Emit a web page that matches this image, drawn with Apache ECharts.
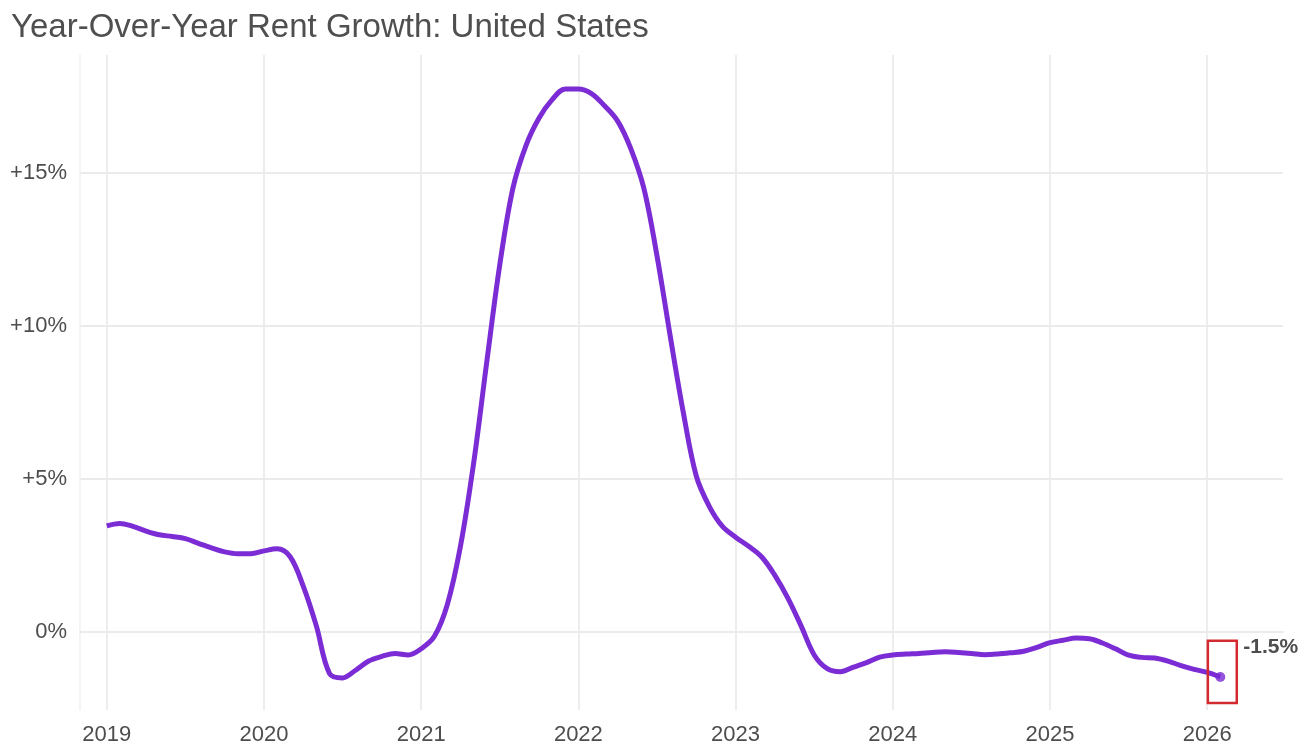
<!DOCTYPE html>
<html>
<head>
<meta charset="utf-8">
<script src="https://cdn.jsdelivr.net/npm/echarts@6/dist/echarts.min.js"></script>
<style>html,body{margin:0;padding:0;background:#fff;}#chart{width:1306px;height:750px;}</style>
</head>
<body>
<div id="chart"></div>
<script>
const chartTitle = 'Year-Over-Year Rent Growth: United States';
const startYear = 2019;
// monthly YoY rent growth (%), Jan 2019 .. Feb 2026
const rentGrowth = [
  3.47, 3.55, 3.45, 3.30, 3.18, 3.12, 3.05, 2.90, 2.75, 2.62, 2.56, 2.56,
  2.65, 2.72, 2.46, 1.50, 0.20, -1.35, -1.50, -1.25, -0.95, -0.80, -0.70, -0.75,
  -0.55, -0.15, 0.90, 2.80, 5.50, 8.80, 12.00, 14.50, 15.90, 16.80, 17.40, 17.75,
  17.75, 17.60, 17.20, 16.70, 15.80, 14.50, 12.30, 9.70, 7.20, 5.10, 4.10, 3.45,
  3.10, 2.80, 2.45, 1.85, 1.10, 0.20, -0.75, -1.20, -1.30, -1.15, -1.00, -0.82,
  -0.75, -0.72, -0.70, -0.67, -0.65, -0.67, -0.70, -0.74, -0.72, -0.68, -0.63, -0.50,
  -0.35, -0.27, -0.20, -0.22, -0.36, -0.55, -0.76, -0.83, -0.85, -0.95, -1.10, -1.22,
  -1.32, -1.47
];
const yearTicks = [2019, 2020, 2021, 2022, 2023, 2024, 2025, 2026];
const pctTicks = [0, 5, 10, 15];
const lastLabel = '-1.5%';
const highlightBox = { x: [2026.004, 2026.188], y: [-2.32, -0.29] };

const points = rentGrowth.map((v, i) => [startYear + i / 12, v]);
const lastPoint = points[points.length - 1];

const gridColor = '#ebebeb';
const lineColor = '#7b2cd4';
const textColor = '#4d4d4d';

const chart = echarts.init(document.getElementById('chart'));
chart.setOption({
  backgroundColor: '#ffffff',
  animation: false,
  title: {
    text: chartTitle,
    left: 6,
    top: 6,
    textStyle: { fontFamily: 'Liberation Sans, Arial, sans-serif', fontSize: 33, fontWeight: 'normal', color: '#4f4f4f' }
  },
  grid: { left: 80, right: 23, top: 55, bottom: 40, containLabel: false },
  xAxis: {
    type: 'value',
    min: 2018.83,
    max: 2026.482,
    splitLine: { show: false },
    axisTick: { show: false },
    axisLine: { show: true, lineStyle: { color: '#ececec', width: 1.5 } },
    axisLabel: {
      customValues: yearTicks,
      formatter: v => String(Math.round(v)),
      margin: 14,
      fontFamily: 'Liberation Sans, Arial, sans-serif',
      fontSize: 22,
      color: textColor
    }
  },
  yAxis: {
    type: 'value',
    min: -2.55,
    max: 18.86,
    splitLine: { show: false },
    axisTick: { show: false },
    axisLine: { show: true, lineStyle: { color: '#f0f0f0', width: 1.5 } },
    axisLabel: {
      customValues: pctTicks,
      formatter: v => (v > 0 ? '+' : '') + v + '%',
      margin: 13,
      fontFamily: 'Liberation Sans, Arial, sans-serif',
      fontSize: 22,
      color: textColor
    }
  },
  series: [
    {
      type: 'line',
      name: 'grid',
      data: [],
      silent: true,
      z: 0,
      markLine: {
        silent: true,
        z: 0,
        symbol: 'none',
        label: { show: false },
        lineStyle: { color: gridColor, type: 'solid', width: 1.8 },
        data: yearTicks.map(y => ({ xAxis: y })).concat(pctTicks.map(p => ({ yAxis: p })))
      }
    },
    {
      type: 'line',
      name: 'Rent growth',
      data: points,
      smooth: 0.35,
      showSymbol: false,
      z: 3,
      lineStyle: { color: lineColor, width: 5 },
      itemStyle: { color: lineColor },
      endLabel: {
        show: true,
        formatter: () => lastLabel,
        distance: 5,
        offset: [18, -30],
        fontFamily: 'Liberation Sans, Arial, sans-serif',
        fontSize: 21,
        fontWeight: 'bold',
        color: '#4d4d4d'
      },
      markArea: {
        silent: true,
        z: 4,
        itemStyle: { color: 'rgba(0,0,0,0)', borderColor: '#d42a2f', borderWidth: 2.5 },
        data: [[{ coord: [highlightBox.x[0], highlightBox.y[1]] }, { coord: [highlightBox.x[1], highlightBox.y[0]] }]]
      }
    },
    {
      type: 'scatter',
      name: 'last',
      data: [lastPoint],
      symbolSize: 10,
      z: 5,
      itemStyle: { color: lineColor }
    }
  ]
});
</script>
</body>
</html>
